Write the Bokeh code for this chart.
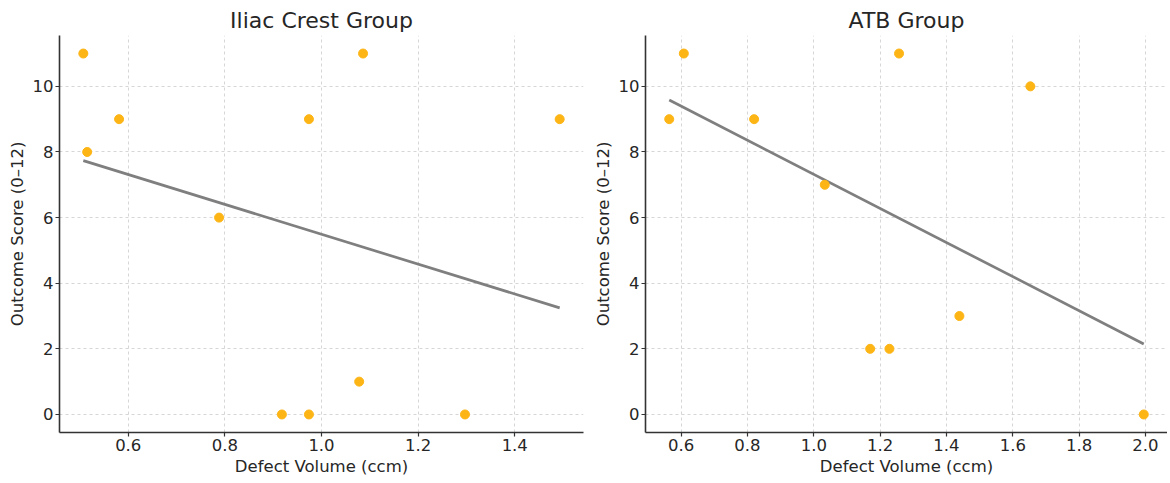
import numpy as np
from bokeh.plotting import figure
from bokeh.layouts import row
from bokeh.models import FixedTicker, PrintfTickFormatter, Range1d
from bokeh.embed import file_html
from bokeh.resources import INLINE

# Iliac Crest group
iliac_volume = [0.507, 0.581, 0.515, 0.788, 0.974, 1.086, 1.493, 0.918, 0.974, 1.078, 1.297]
iliac_score = [11, 9, 8, 6, 9, 11, 9, 0, 0, 1, 0]

# ATB group
atb_volume = [0.564, 0.608, 0.820, 1.033, 1.257, 1.653, 1.170, 1.228, 1.439, 1.995]
atb_score = [9, 11, 9, 7, 11, 10, 2, 2, 3, 0]

iliac_xticks = [0.6, 0.8, 1.0, 1.2, 1.4]
atb_xticks = [0.6, 0.8, 1.0, 1.2, 1.4, 1.6, 1.8, 2.0]
yticks = [0, 2, 4, 6, 8, 10]

FONT = "DejaVu Sans"
DOT = "#FDB515"
LINE = "#7f7f7f"
TXT = "#262626"


def panel(title, xs, ys, xticks, frame_w, left_border, right_border):
    xs = np.asarray(xs, float)
    ys = np.asarray(ys, float)
    xmin, xmax = xs.min(), xs.max()
    xpad = (xmax - xmin) * 0.05
    ypad = (ys.max() - ys.min()) * 0.05
    p = figure(frame_width=frame_w, frame_height=397, output_backend="svg", toolbar_location=None,
               x_range=Range1d(xmin - xpad, xmax + xpad),
               y_range=Range1d(ys.min() - ypad, ys.max() + ypad),
               min_border_left=left_border, min_border_right=right_border,
               min_border_top=35, min_border_bottom=50)
    p.title.text = title
    p.title.align = "center"
    p.title.text_font = FONT
    p.title.text_font_size = "22px"
    p.title.text_font_style = "normal"
    p.title.text_color = TXT
    p.title.standoff = 6
    p.outline_line_color = None
    p.background_fill_color = "white"
    p.border_fill_color = "white"

    p.xaxis.ticker = FixedTicker(ticks=xticks)
    p.yaxis.ticker = FixedTicker(ticks=yticks)
    p.xaxis.formatter = PrintfTickFormatter(format="%.1f")
    p.xaxis.axis_label = "Defect Volume (ccm)"
    p.yaxis.axis_label = "Outcome Score (0\u201312)"
    for ax in (p.xaxis, p.yaxis):
        ax.axis_label_text_font = FONT
        ax.axis_label_text_font_size = "16.5px"
        ax.axis_label_text_font_style = "normal"
        ax.axis_label_text_color = TXT
        ax.major_label_text_font = FONT
        ax.major_label_text_font_size = "16.5px"
        ax.major_label_text_color = TXT
        ax.axis_line_color = "#333333"
        ax.axis_line_width = 1.6
        ax.major_tick_line_color = "#333333"
        ax.major_tick_line_width = 1.2
        ax.major_tick_in = 0
        ax.major_tick_out = 4
        ax.minor_tick_line_color = None
        ax.axis_label_standoff = 3
        ax.major_label_standoff = 2

    for g in (p.xgrid, p.ygrid):
        g.grid_line_color = "#cccccc"
        g.grid_line_dash = "3 3"
        g.grid_line_width = 0.8

    slope, intercept = np.polyfit(xs, ys, 1)
    lx = np.array([xmin, xmax])
    p.line(lx, slope * lx + intercept, line_color=LINE, line_width=2.7)
    p.scatter(xs, ys, size=9, fill_color=DOT, line_color=DOT)
    return p


left = panel("Iliac Crest Group", iliac_volume, iliac_score, iliac_xticks, 524, 59, 2)
right = panel("ATB Group", atb_volume, atb_score, atb_xticks, 522, 60, 0)

layout = row(left, right, spacing=0)
open("out.html", "w").write(file_html(layout, INLINE))
